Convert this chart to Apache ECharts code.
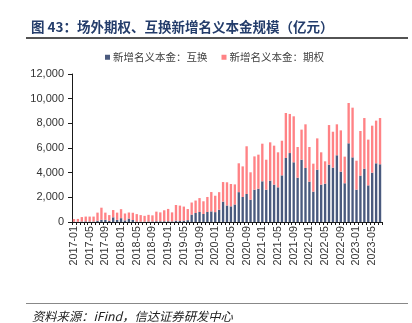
<!DOCTYPE html>
<html><head><meta charset="utf-8">
<script src="https://cdn.jsdelivr.net/npm/echarts@6/dist/echarts.min.js"></script>
<style>html,body{margin:0;padding:0;background:#fff}#c{width:412px;height:323px}</style>
</head><body><div id="c"></div>
<script>
// categories: 2017-01 .. 2023-07
const months = [];
for (let y = 2017; y <= 2023; y++) {
  for (let m = 1; m <= 12; m++) {
    if (y === 2023 && m > 7) break;
    months.push(y + '-' + (m < 10 ? '0' + m : m));
  }
}
// 新增名义本金：互换 (亿元)
const swapValues = [
  20, 20, 40, 50, 40, 40, 100, 180, 180, 100, 380, 170,
  310, 130, 280, 160, 40, 30, 30, 40, 40, 60, 60, 60,
  60, 50, 110, 80, 110, 150, 600, 730, 810, 650, 810, 860,
  800, 1000, 1650, 1340, 1270, 1420, 2420, 2030, 2270, 1810, 2620, 2700,
  3300, 2620, 3350, 3030, 2810, 3780, 5190, 5590, 4840, 3590, 5050, 4380,
  3270, 2460, 4240, 3030, 3110, 4650, 4410, 5410, 4080, 3140, 6380, 5240,
  2620, 3760, 4320, 2970, 4000, 4760, 4680
];
const totalValues = [
  240, 250, 400, 440, 440, 440, 760, 1160, 760, 560, 970, 760,
  1040, 690, 770, 750, 640, 560, 500, 580, 540, 840, 780, 950,
  1060, 780, 1380, 1330, 1250, 1050, 1580, 1740, 1940, 1680, 2030, 2430,
  2130, 2420, 3240, 3220, 3080, 3050, 4760, 4510, 6140, 4030, 5320, 5460,
  6350, 5050, 6460, 6190, 5650, 6590, 8840, 8760, 8570, 6080, 7490, 7920,
  6080, 4730, 6780, 5650, 4920, 7860, 7320, 7920, 7430, 5300, 9650, 9270,
  4970, 7380, 8430, 6680, 7810, 8220, 8430
];
// 新增名义本金：期权
const optionValues = totalValues.map((t, i) => t - swapValues[i]);
const yTicks = [0, 2000, 4000, 6000, 8000, 10000, 12000];

const chart = echarts.init(document.getElementById('c'), null, {renderer: 'canvas'});
chart.setOption({
  animation: false,
  backgroundColor: '#fff',
  title: [
    {text: '图 43：场外期权、互换新增名义本金规模（亿元）', left: 26, top: 15,
     textStyle: {fontFamily: '"Noto Sans CJK SC", sans-serif', fontSize: 13.5, fontWeight: 'bold', color: '#243d6b'}},
    {text: '资料来源：iFind，信达证券研发中心', left: 27, top: 305,
     textStyle: {fontFamily: '"Noto Sans CJK SC", sans-serif', fontSize: 12.3, fontWeight: 'normal', fontStyle: 'italic', color: '#222'}}
  ],
  graphic: [
    {type: 'line', shape: {x1: 26, y1: 38, x2: 408, y2: 38}, style: {stroke: '#1a1a1a', lineWidth: 1.5}},
    {type: 'line', shape: {x1: 26, y1: 303.5, x2: 408, y2: 303.5}, style: {stroke: '#888', lineWidth: 1}}
  ],
  legend: {
    left: 100, top: 47, itemWidth: 5, itemHeight: 5, itemGap: 14,
    icon: 'rect',
    textStyle: {fontFamily: '"Noto Sans CJK SC", sans-serif', fontSize: 10.5, color: '#404040', padding: [0, 0, 0, -2]},
    data: ['新增名义本金：互换', '新增名义本金：期权']
  },
  grid: {left: 72, right: 30, top: 74, height: 148, containLabel: false},
  xAxis: {
    type: 'category', data: months, boundaryGap: true,
    axisLine: {lineStyle: {color: '#1a1a1a', width: 1}},
    axisTick: {show: true, interval: 0, length: 3, lineStyle: {color: '#1a1a1a'}},
    axisLabel: {interval: 3, rotate: 90, margin: 4, fontFamily: '"Liberation Sans", Arial, sans-serif', fontSize: 10.8, color: '#333'}
  },
  yAxis: {
    type: 'value', min: 0, max: 12000, interval: 2000,
    splitLine: {show: false},
    axisLine: {show: true, lineStyle: {color: '#1a1a1a', width: 1}},
    axisTick: {show: true, length: 4, inside: false, lineStyle: {color: '#1a1a1a'}},
    axisLabel: {margin: 8, fontFamily: '"Liberation Sans", Arial, sans-serif', fontSize: 11, color: '#333',
      formatter: v => v.toLocaleString('en-US')}
  },
  series: [
    {name: '新增名义本金：互换', type: 'bar', stack: 's', data: swapValues, barWidth: '60%',
     itemStyle: {color: '#4A5A7E'}},
    {name: '新增名义本金：期权', type: 'bar', stack: 's', data: optionValues, barWidth: '60%',
     itemStyle: {color: '#FF8285'}}
  ]
});
</script></body></html>
